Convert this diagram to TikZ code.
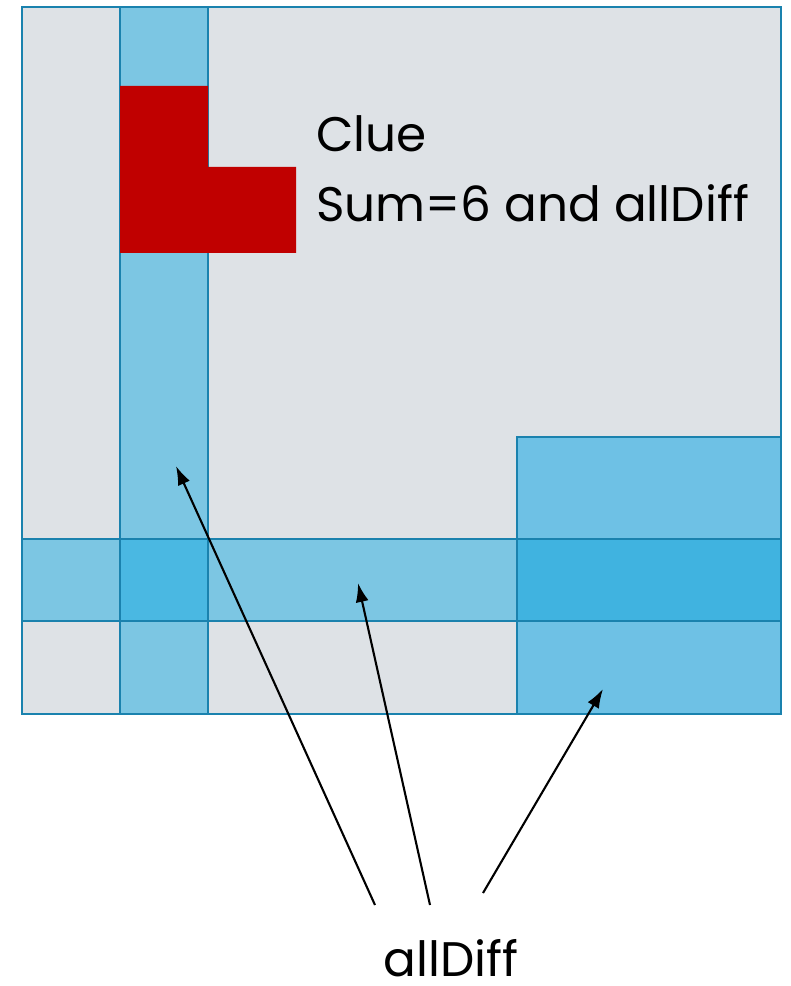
\documentclass[tikz,border=0pt]{standalone}
\usepackage{fontspec}
\setmainfont{Poppins}
\usetikzlibrary{arrows.meta}
\definecolor{cellgray}{HTML}{DEE2E6}
\definecolor{bandblue}{HTML}{7CC6E3}
\definecolor{boxblue}{HTML}{6EC1E5}
\definecolor{crossblue}{HTML}{4AB8E2}
\definecolor{boxcross}{HTML}{40B3E0}
\definecolor{gridline}{HTML}{1A82AE}
\definecolor{cluered}{HTML}{C00000}
\tikzset{
  grid/.style={draw=gridline,line width=0.45mm},
  pointer/.style={-{Latex[length=3.8mm,width=2.6mm]},line width=0.42mm},
  label/.style={font=\fontsize{27.6}{33}\selectfont,inner sep=0pt}
}

\begin{document}
\begin{tikzpicture}[x=0.2mm,y=-0.2mm]
\useasboundingbox (0,0) rectangle (790,986);
% board
\fill[cellgray] (22,7) rectangle (781,714);
\fill[bandblue] (120,7) rectangle (208,714);
\fill[bandblue] (22,539) rectangle (517,621);
\fill[boxblue] (517,437) rectangle (781,714);
\fill[crossblue] (120,539) rectangle (208,621);
\fill[boxcross] (517,539) rectangle (781,621);
\draw[grid] (22,7) rectangle (781,714);
\draw[grid] (120,7) -- (120,714);
\draw[grid] (208,7) -- (208,714);
\draw[grid] (22,539) -- (781,539);
\draw[grid] (22,621) -- (781,621);
\draw[grid] (517,714) -- (517,437) -- (781,437);
% clue cage
\fill[cluered] (120,86) -- (208,86) -- (208,167) -- (296,167) -- (296,253) -- (120,253) -- cycle;
\node[label,anchor=base west] (clue) at (316,152) {Clue};
\node[label,anchor=base west] (rule) at (316,222) {Sum=6 and allDiff};
% pointers
\node[label,anchor=base,text depth=0pt] (diff) at (451,976) {allDiff};
\coordinate (col) at (176,466);
\coordinate (row) at (358,583);
\coordinate (box) at (603,689);
\coordinate (t1) at (375,905);
\coordinate (t2) at (430,905);
\coordinate (t3) at (483,893);
\draw[pointer] (t1) -- (col);
\draw[pointer] (t2) -- (row);
\draw[pointer] (t3) -- (box);
\end{tikzpicture}
\end{document}
